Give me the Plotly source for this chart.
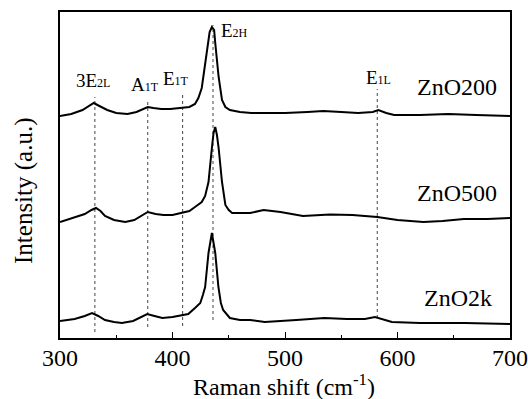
import plotly.graph_objects as go

# Raman shift (cm-1) and intensity (a.u., offset stacked)
x_200 = [300, 310, 320, 326, 330, 335, 342, 350, 360, 368, 374, 378, 383, 390, 398, 405, 410, 415, 420, 423,
         426, 428, 431, 433, 435, 437, 438, 441, 444, 447, 451, 460, 470, 481, 500, 520, 534, 550, 565, 578,
         583, 590, 597, 620, 645, 670, 700]
y_200 = [222, 224, 228, 232, 235, 232, 228, 225, 224, 226, 229, 231, 230, 229, 229, 230, 230, 231, 234, 240,
         250, 266, 295, 306, 311, 308, 295, 261, 238, 231, 228, 226, 225, 225, 225, 226, 227, 226, 225, 226,
         228, 225, 223, 223, 224, 223, 222]

x_500 = [300, 312, 322, 328, 332, 336, 340, 348, 358, 366, 372, 378, 385, 392, 400, 409, 415, 420, 426, 429,
         432, 435, 436.5, 438, 439.5, 441, 444, 447, 450, 453, 460, 469, 481, 496, 516, 540, 560, 582, 600,
         623, 640, 659, 680, 700]
y_500 = [116, 120, 124, 128, 130, 127, 122, 118, 116, 118, 122, 126, 124, 123, 123, 125, 127, 131, 136, 142,
         156, 190, 205, 211, 203, 190, 156, 133, 128, 125, 125, 125, 128, 126, 122, 123.5, 123, 121, 118,
         116, 117, 119, 119, 120]

x_2k = [300, 313, 322, 328.5, 334, 340, 348, 355, 365, 372, 377.5, 384, 391, 400, 409, 414, 420, 424.7, 427,
        429, 432, 435, 438, 440.8, 443, 445, 451, 460, 469, 482, 510, 535, 555, 571, 580, 587, 595, 620, 660, 700]
y_2k = [17, 19, 22, 25, 22, 18, 16, 15, 17, 21, 24, 22, 20, 21, 23, 24, 30, 35, 43,
        51, 85, 105, 85, 51, 35, 28, 20, 18, 18, 16, 18, 20, 19, 19, 21, 19, 16, 15, 15, 14]

series = [("ZnO200", x_200, y_200), ("ZnO500", x_500, y_500), ("ZnO2k", x_2k, y_2k)]
series_label_x = [652.8, 652.8, 653.7]
series_label_y = [251, 145, 40]

# mode markers: position, dotted line span, label
mode_names = ["3E<span style='font-size:12px'>2L</span>",
              "A<span style='font-size:12px'>1T</span>",
              "E<span style='font-size:12px'>1T</span>",
              "E<span style='font-size:12px'>2H</span>",
              "E<span style='font-size:12px'>1L</span>"]
mode_x = [331, 378, 409, 436, 582]
mode_y0 = [6, 11, 12, 18, 20]
mode_y1 = [241, 238, 245, 313, 249]
mode_label_x = [329.4, 375.7, 403, 441, 583]
mode_label_y = [258, 254, 260, 308, 261]
mode_label_anchor = ["center", "center", "center", "left", "center"]

FONT = "Liberation Serif"

fig = go.Figure()
for name, xs, ys in series:
    fig.add_trace(go.Scatter(x=xs, y=ys, mode="lines", name=name,
                             line=dict(color="black", width=2),
                             showlegend=False))

for mx, y0, y1 in zip(mode_x, mode_y0, mode_y1):
    fig.add_shape(type="line", xref="x", yref="y", x0=mx, x1=mx, y0=y0, y1=y1,
                  line=dict(color="#444444", width=1, dash="dot"), layer="below")

for txt, lx, ly, anc in zip(mode_names, mode_label_x, mode_label_y, mode_label_anchor):
    fig.add_annotation(x=lx, y=ly, xref="x", yref="y", text=txt, showarrow=False,
                       xanchor=anc, yanchor="middle", font=dict(family=FONT, size=19, color="black"))

for (name, _, _), lx, ly in zip(series, series_label_x, series_label_y):
    fig.add_annotation(x=lx, y=ly, xref="x", yref="y", text=name, showarrow=False,
                       xanchor="center", yanchor="middle", font=dict(family=FONT, size=24, color="black"))

fig.add_annotation(x=-0.08, y=0.451, xref="paper", yref="paper", text="Intensity (a.u.)",
                   textangle=-90, showarrow=False, xanchor="center", yanchor="middle",
                   font=dict(family=FONT, size=25, color="black"))
fig.add_annotation(x=0.498, y=-0.145, xref="paper", yref="paper",
                   text="Raman shift (cm<sup>-1</sup>)", showarrow=False,
                   xanchor="center", yanchor="middle", font=dict(family=FONT, size=24, color="black"))

fig.update_layout(
    width=528, height=399,
    margin=dict(l=60, r=18, t=12, b=61, autoexpand=False),
    paper_bgcolor="white", plot_bgcolor="white",
    font=dict(family=FONT, color="black"),
    xaxis=dict(range=[300, 700], dtick=100, tick0=300, ticks="inside", ticklen=6, tickwidth=1.2,
               tickcolor="black", showline=True, linecolor="black", linewidth=1.5, mirror=True,
               showgrid=False, zeroline=False, tickfont=dict(family=FONT, size=24, color="black"),
               ticklabelstandoff=-3, automargin=False,
               minor=dict(dtick=50, ticks="inside", ticklen=3, tickcolor="black", tickwidth=1.2)),
    yaxis=dict(range=[0, 326], showticklabels=False, ticks="", showline=True, linecolor="black",
               linewidth=1.5, mirror=True, showgrid=False, zeroline=False, automargin=False),
)

fig.write_html("out.html", config={"displayModeBar": False},
               post_script="document.body.style.margin='0';document.body.style.padding='0';")
